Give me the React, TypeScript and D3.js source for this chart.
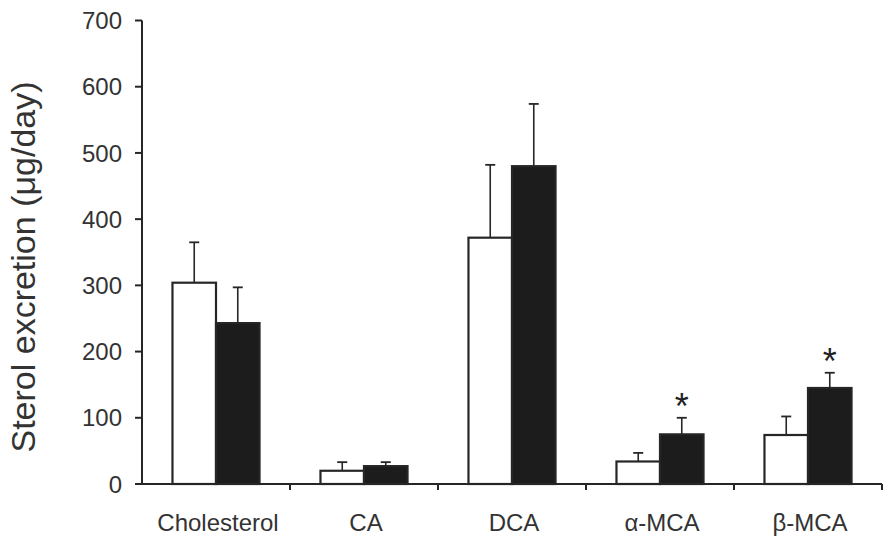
import React from "react";
import * as d3 from "d3";

const categories = ["Cholesterol", "CA", "DCA", "α-MCA", "β-MCA"];
const series = ["Control", "Treated"];
const controlValues = [304, 20, 372, 34, 74];
const controlErrors = [61, 13, 110, 13, 28];
const treatedValues = [243, 27, 480, 75, 145];
const treatedErrors = [54, 6, 94, 25, 23];
const significant = [false, false, false, true, true];
const yTicks = [0, 100, 200, 300, 400, 500, 600, 700];

const W = 886;
const H = 541;
const left = 142;
const right = 882;
const top = 20.5;
const bottom = 484;
const font = "'Liberation Sans', Arial, Helvetica, sans-serif";
const ink = "#262626";

export default function App() {
  const y = d3.scaleLinear().domain([0, 700]).range([bottom, top]);
  const x = d3.scaleBand<string>().domain(categories).range([left, right]).paddingInner(0).paddingOuter(0);
  const sub = d3.scaleBand<string>().domain(series).range([0, x.bandwidth()]).paddingInner(0).paddingOuter(0.7);
  const values = [controlValues, treatedValues];
  const errors = [controlErrors, treatedErrors];
  const capHalf = 5;

  return (
    <svg width={W} height={H} style={{ position: "absolute", left: 0, top: 0, display: "block", background: "#fff" }}>
      <text
        transform={`translate(35, 267) rotate(-90)`}
        textAnchor="middle"
        fontFamily={font}
        fontSize={34}
        fill="#333"
      >
        Sterol excretion (μg/day)
      </text>
      {categories.map((c, i) => (
        <g key={c}>
          {series.map((s, j) => {
            const bx = (x(c) as number) + (sub(s) as number);
            const bw = sub.bandwidth();
            const v = values[j][i];
            const e = errors[j][i];
            const cx = bx + bw / 2;
            return (
              <g key={s}>
                <line x1={cx} x2={cx} y1={y(v)} y2={y(v + e)} stroke={ink} strokeWidth={1.6} />
                <line x1={cx - capHalf} x2={cx + capHalf} y1={y(v + e)} y2={y(v + e)} stroke={ink} strokeWidth={1.8} />
                <rect
                  x={bx}
                  y={y(v)}
                  width={bw}
                  height={bottom - y(v)}
                  fill={j === 0 ? "#fff" : "#1c1c1c"}
                  stroke={ink}
                  strokeWidth={2.2}
                />
              </g>
            );
          })}
          {significant[i] && (
            <text
              x={(x(c) as number) + (sub("Treated") as number) + sub.bandwidth() / 2}
              y={y(treatedValues[i] + treatedErrors[i]) + 1}
              textAnchor="middle"
              fontFamily={font}
              fontSize={36}
              fill="#222"
            >
              *
            </text>
          )}
          <text
            x={(x(c) as number) + x.bandwidth() / 2 + 2}
            y={531}
            textAnchor="middle"
            fontFamily={font}
            fontSize={24}
            fill="#333"
          >
            {c}
          </text>
        </g>
      ))}
      <line x1={left} x2={left} y1={top} y2={bottom} stroke={ink} strokeWidth={2} />
      {yTicks.map((t) => (
        <g key={t}>
          <line x1={left - 7} x2={left} y1={y(t)} y2={y(t)} stroke={ink} strokeWidth={2} />
          <text
            x={122}
            y={y(t)}
            dy="0.36em"
            textAnchor="end"
            fontFamily={font}
            fontSize={24}
            fill="#333"
          >
            {t}
          </text>
        </g>
      ))}
      <line x1={left - 7} x2={right} y1={bottom} y2={bottom} stroke={ink} strokeWidth={2} />
      {categories.map((c) => (
        <line
          key={c}
          x1={(x(c) as number) + x.bandwidth()}
          x2={(x(c) as number) + x.bandwidth()}
          y1={bottom}
          y2={bottom + 6}
          stroke={ink}
          strokeWidth={2}
        />
      ))}
    </svg>
  );
}
